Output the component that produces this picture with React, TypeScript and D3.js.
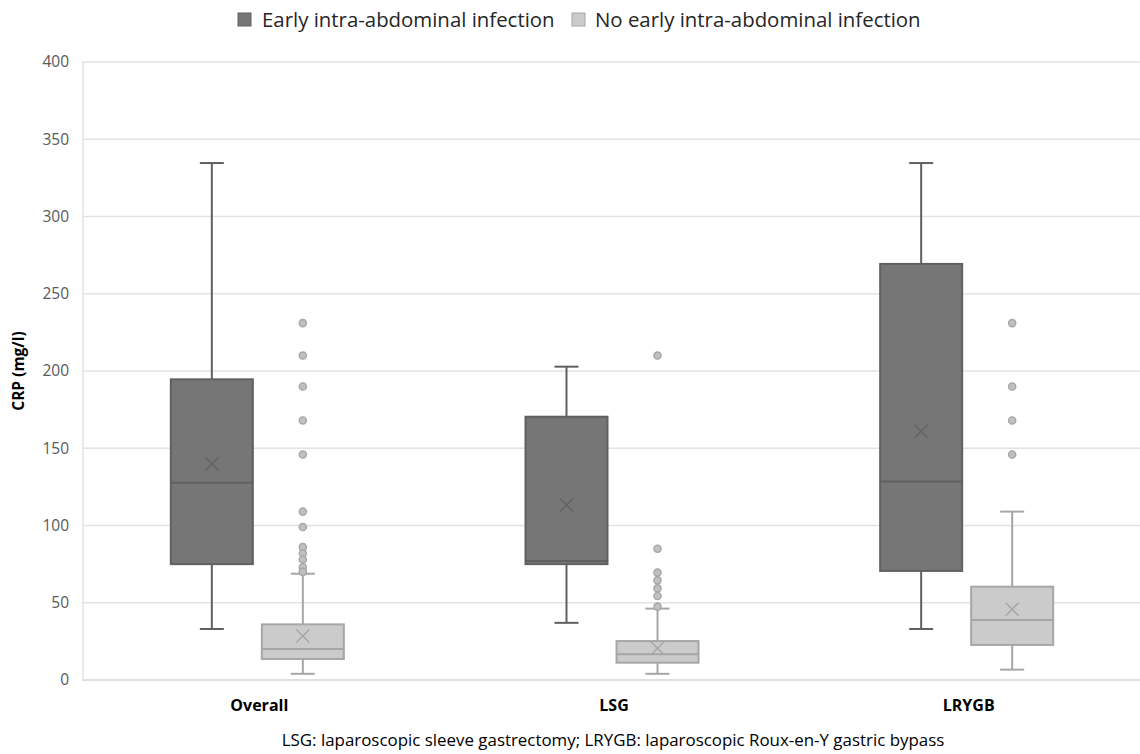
import React from "react"
import * as d3 from "d3"

const categories = ["Overall", "LSG", "LRYGB"]
const seriesNames = ["Early intra-abdominal infection", "No early intra-abdominal infection"]
const yTicks = [0, 50, 100, 150, 200, 250, 300, 350, 400]

// early intra-abdominal infection
const earlyMin = [33, 37, 33]
const earlyQ1 = [75, 75, 70.6]
const earlyMedian = [127.7, 77, 128.4]
const earlyQ3 = [194.6, 170.4, 269.3]
const earlyMax = [334.6, 202.8, 334.6]
const earlyMean = [140, 113.3, 161]
const earlyOutliers: number[][] = [[], [], []]

// no early intra-abdominal infection
const noMin = [4, 4, 6.7]
const noQ1 = [13.6, 11.2, 22.7]
const noMedian = [20, 16.6, 38.8]
const noQ3 = [36, 25.2, 60.4]
const noMax = [68.8, 46.2, 109]
const noMean = [28.5, 20.5, 45.8]
const noOutliers = [
  [231, 210, 190, 168, 146, 109, 99, 86, 82, 78, 73, 70],
  [210, 85, 69.5, 64.5, 59.3, 54.4, 47.5],
  [231, 190, 168, 146],
]

const W = 1140
const H = 754
const plot = { left: 82, right: 1146, top: 62, bottom: 680 }
const FONT = "'Open Sans', Roboto, sans-serif"

const styles = [
  { fill: "#767676", stroke: "#606060", mean: "#636363", ptFill: "#8a8a8a" },
  { fill: "#cbcbcb", stroke: "#a6a6a6", mean: "#a6a6a6", ptFill: "#c0c0c0" },
]

const App = () => {
  const x = d3.scaleBand().domain(categories).range([plot.left, plot.right])
  const inner = d3.scaleBand().domain(seriesNames).range([-88.5, 84.5]).paddingInner(0.099)
  const y = d3.scaleLinear().domain([0, 400]).range([plot.bottom, plot.top])

  const groups = [
    { min: earlyMin, q1: earlyQ1, med: earlyMedian, q3: earlyQ3, max: earlyMax, mean: earlyMean, out: earlyOutliers },
    { min: noMin, q1: noQ1, med: noMedian, q3: noQ3, max: noMax, mean: noMean, out: noOutliers },
  ]

  const bw = inner.bandwidth()
  const cap = 12

  return (
    <div style={{ position: "absolute", left: 0, top: 0 }}>
      <svg width={W} height={H} style={{ display: "block", background: "#fff" }}>
        {/* grid */}
        {yTicks.map((t) => (
          <line key={t} x1={plot.left} x2={W} y1={y(t)} y2={y(t)} stroke={t === 0 ? "#d4d4d4" : "#e3e3e3"} strokeWidth={1.5} />
        ))}
        <line x1={plot.left + 1} x2={plot.left + 1} y1={plot.top} y2={plot.bottom} stroke="#e3e3e3" strokeWidth={1.5} />
        {yTicks.map((t) => (
          <text key={t} x={69} y={y(t)} dy="0.35em" textAnchor="end" fontFamily={FONT} fontSize={15.5} fill="#595959">
            {t}
          </text>
        ))}
        <text
          transform={`translate(19,${(plot.top + plot.bottom) / 2}) rotate(-90)`}
          textAnchor="middle"
          dy="0.35em"
          fontFamily={FONT}
          fontSize={15.5}
          fontWeight="bold"
          fill="#000"
        >
          CRP (mg/l)
        </text>

        {/* boxes */}
        {categories.map((c, ci) => (
          <g key={c}>
            {groups.map((g, si) => {
              const st = styles[si]
              const cx = x(c)! + x.bandwidth() / 2 + inner(seriesNames[si])! + bw / 2
              const x0 = cx - bw / 2
              return (
                <g key={si}>
                  <line x1={cx} x2={cx} y1={y(g.max[ci])} y2={y(g.q3[ci])} stroke={st.stroke} strokeWidth={2} />
                  <line x1={cx} x2={cx} y1={y(g.q1[ci])} y2={y(g.min[ci])} stroke={st.stroke} strokeWidth={2} />
                  <line x1={cx - cap} x2={cx + cap} y1={y(g.max[ci])} y2={y(g.max[ci])} stroke={st.stroke} strokeWidth={2} />
                  <line x1={cx - cap} x2={cx + cap} y1={y(g.min[ci])} y2={y(g.min[ci])} stroke={st.stroke} strokeWidth={2} />
                  <rect
                    x={x0}
                    y={y(g.q3[ci])}
                    width={bw}
                    height={y(g.q1[ci]) - y(g.q3[ci])}
                    fill={st.fill}
                    stroke={st.stroke}
                    strokeWidth={2}
                  />
                  <line x1={x0} x2={x0 + bw} y1={y(g.med[ci])} y2={y(g.med[ci])} stroke={st.stroke} strokeWidth={2} />
                  <path
                    d={`M${cx - 6.5},${y(g.mean[ci]) - 6.5}L${cx + 6.5},${y(g.mean[ci]) + 6.5}M${cx - 6.5},${y(g.mean[ci]) + 6.5}L${cx + 6.5},${y(g.mean[ci]) - 6.5}`}
                    stroke={st.mean}
                    strokeWidth={1.5}
                    fill="none"
                  />
                  {g.out[ci].map((v, i) => (
                    <circle key={i} cx={cx} cy={y(v)} r={3.6} fill={st.ptFill} stroke={st.stroke} strokeWidth={1.4} />
                  ))}
                </g>
              )
            })}
          </g>
        ))}

        {/* category labels */}
        {categories.map((c) => (
          <text
            key={c}
            x={x(c)! + x.bandwidth() / 2}
            y={705}
            dy="0.35em"
            textAnchor="middle"
            fontFamily={FONT}
            fontSize={16}
            fontWeight="bold"
            fill="#000"
          >
            {c}
          </text>
        ))}

        {/* legend */}
        <g>
          <rect x={238} y={13} width={13} height={13} fill={styles[0].fill} stroke={styles[0].stroke} strokeWidth={1} />
          <text x={262} y={20} dy="0.35em" fontFamily={FONT} fontSize={20.4} fill="#262626">
            {seriesNames[0]}
          </text>
          <rect x={572} y={13} width={13} height={13} fill={styles[1].fill} stroke={styles[1].stroke} strokeWidth={1} />
          <text x={595} y={20} dy="0.35em" fontFamily={FONT} fontSize={20.4} fill="#262626">
            {seriesNames[1]}
          </text>
        </g>

        {/* caption */}
        <text x={613} y={740} dy="0.35em" textAnchor="middle" fontFamily={FONT} fontSize={16.9} fill="#000">
          LSG: laparoscopic sleeve gastrectomy; LRYGB: laparoscopic Roux-en-Y gastric bypass
        </text>
      </svg>
    </div>
  )
}

export default App
